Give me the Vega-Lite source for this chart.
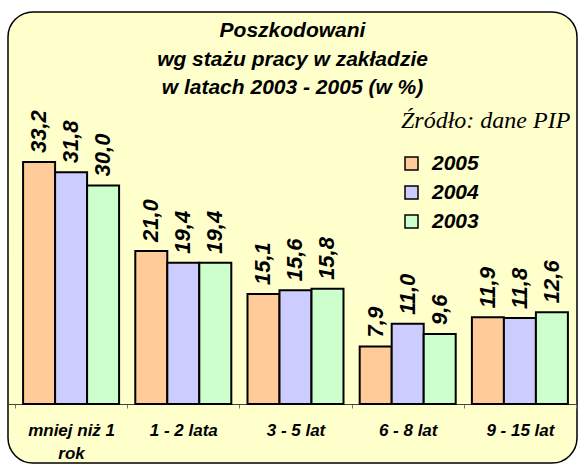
{
  "$schema": "https://vega.github.io/schema/vega-lite/v6.json",
  "autosize": {"type": "none"},
  "padding": {"left": 8, "top": 12, "right": 3, "bottom": 3},
  "width": 569,
  "height": 451,
  "background": "white",
  "title": {
    "text": ["Poszkodowani", "wg stażu pracy w zakładzie", "w latach 2003 - 2005 (w %)"],
    "font": "Liberation Sans",
    "fontSize": 21,
    "fontWeight": "bold",
    "fontStyle": "italic",
    "color": "black",
    "anchor": "middle",
    "baseline": "top",
    "lineHeight": 28.5,
    "offset": -86
  },
  "data": {
    "values": [
      {"kategoria": "mniej niż 1 rok", "rok": "2005", "wartosc": 33.2},
      {"kategoria": "mniej niż 1 rok", "rok": "2004", "wartosc": 31.8},
      {"kategoria": "mniej niż 1 rok", "rok": "2003", "wartosc": 30.0},
      {"kategoria": "1 - 2 lata", "rok": "2005", "wartosc": 21.0},
      {"kategoria": "1 - 2 lata", "rok": "2004", "wartosc": 19.4},
      {"kategoria": "1 - 2 lata", "rok": "2003", "wartosc": 19.4},
      {"kategoria": "3 - 5 lat", "rok": "2005", "wartosc": 15.1},
      {"kategoria": "3 - 5 lat", "rok": "2004", "wartosc": 15.6},
      {"kategoria": "3 - 5 lat", "rok": "2003", "wartosc": 15.8},
      {"kategoria": "6 - 8 lat", "rok": "2005", "wartosc": 7.9},
      {"kategoria": "6 - 8 lat", "rok": "2004", "wartosc": 11.0},
      {"kategoria": "6 - 8 lat", "rok": "2003", "wartosc": 9.6},
      {"kategoria": "9 - 15 lat", "rok": "2005", "wartosc": 11.9},
      {"kategoria": "9 - 15 lat", "rok": "2004", "wartosc": 11.8},
      {"kategoria": "9 - 15 lat", "rok": "2003", "wartosc": 12.6}
    ]
  },
  "encoding": {
    "x": {
      "field": "kategoria",
      "type": "nominal",
      "sort": ["mniej niż 1 rok", "1 - 2 lata", "3 - 5 lat", "6 - 8 lat", "9 - 15 lat"],
      "scale": {"paddingInner": 0, "paddingOuter": 0.0356, "align": 0.875},
      "axis": {
        "title": null,
        "orient": "bottom",
        "offset": -59,
        "labelAngle": 0,
        "labelFont": "Liberation Sans",
        "labelFontSize": 17,
        "labelFontWeight": "bold",
        "labelFontStyle": "italic",
        "labelColor": "black",
        "labelPadding": 14,
        "labelLineHeight": 23,
        "labelExpr": "datum.value == 'mniej niż 1 rok' ? ['mniej niż 1', 'rok'] : datum.value",
        "tickBand": "extent",
        "tickSize": 4,
        "tickColor": "#777777",
        "domainColor": "#444444",
        "domainWidth": 1.2,
        "grid": false
      }
    },
    "xOffset": {
      "field": "rok",
      "type": "nominal",
      "sort": ["2005", "2004", "2003"],
      "scale": {"paddingInner": 0, "paddingOuter": 0.253}
    },
    "y": {
      "field": "wartosc",
      "type": "quantitative",
      "scale": {"domain": [-8.1, 53.8], "nice": false, "zero": false},
      "axis": null
    }
  },
  "layer": [
    {
      "mark": {"type": "bar", "stroke": "black", "strokeWidth": 2},
      "encoding": {
        "color": {
          "field": "rok",
          "type": "nominal",
          "sort": ["2005", "2004", "2003"],
          "scale": {"domain": ["2005", "2004", "2003"], "range": ["#FFCC99", "#CCCCFF", "#CCFFCC"]},
          "legend": {
            "title": "Źródło: dane PIP",
            "orient": "none",
            "legendX": 393,
            "legendY": 97,
            "padding": 0,
            "titleFont": "Liberation Serif",
            "titleFontSize": 24,
            "titleFontStyle": "italic",
            "titleFontWeight": "normal",
            "titleColor": "black",
            "titlePadding": 20,
            "symbolType": "square",
            "symbolSize": 169,
            "symbolStrokeColor": "black",
            "symbolStrokeWidth": 1.5,
            "symbolOffset": 0,
            "labelFont": "Liberation Sans",
            "labelFontSize": 21,
            "labelFontWeight": "bold",
            "labelFontStyle": "italic",
            "labelColor": "black",
            "labelOffset": 10,
            "rowPadding": 7
          }
        }
      }
    },
    {
      "mark": {
        "type": "text",
        "angle": 270,
        "align": "left",
        "baseline": "middle",
        "dx": 9,
        "font": "Liberation Sans",
        "fontSize": 22,
        "fontWeight": "bold",
        "fontStyle": "italic",
        "color": "black"
      },
      "encoding": {
        "text": {"field": "wartosc", "type": "quantitative", "format": ".1f"}
      }
    }
  ],
  "config": {
    "locale": {"number": {"decimal": ",", "thousands": " ", "grouping": [3], "currency": ["", " zł"]}},
    "view": {"fill": "#FFFFCC", "stroke": "black", "strokeWidth": 1.5, "cornerRadius": 25}
  }
}
